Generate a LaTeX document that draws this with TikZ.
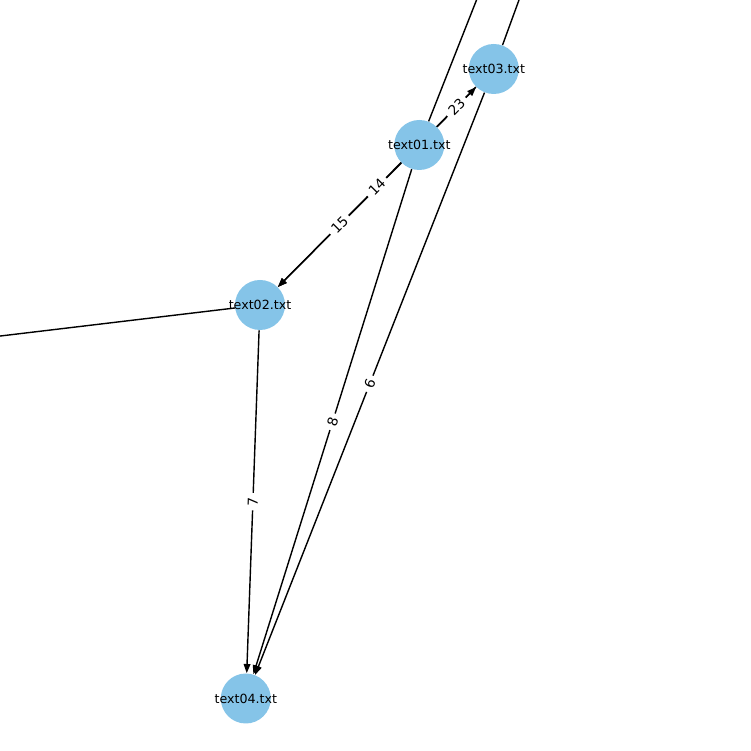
\documentclass[tikz,border=0pt]{standalone}
\usepackage{fontspec}
\setsansfont{DejaVu Sans}
\usetikzlibrary{arrows.meta,backgrounds}
\definecolor{nodec}{HTML}{85C4E8}
\definecolor{ink}{HTML}{000000}

\begin{document}
\begin{tikzpicture}[font=\sffamily\fontsize{7.2}{8.6}\selectfont,
  filenode/.style={circle, fill=nodec, minimum size=1cm, inner sep=0},
  link/.style={draw=ink, line width=0.8pt,
    -{Triangle[length=5.2pt,width=3.8pt]}},
  weight/.style={fill=white, inner xsep=2.4pt, inner ysep=1pt,
    rounded corners=1pt, midway, sloped,
    font=\sffamily\fontsize{7.8}{9}\selectfont}]

\def\W{15.02}   % side of the frame

\useasboundingbox (0,0) rectangle (\W,\W);

% ---- files
\foreach \id/\x/\y in {01/8.386/12.12, 02/5.20/8.92, 03/9.876/13.64,
                       04/4.916/1.05}{
  \node[filenode] (t\id) at (\x,\y) {\makebox[0pt]{text\id.txt}};
}

% ---- far ends, outside the frame
\coordinate (fara) at (10.32,17.02);
\coordinate (farb) at (11.11,17.02);
\coordinate (farl) at (-2.0,8.06);

% ---- links, under the files
\begin{scope}[on background layer]
  \clip (0,0) rectangle (\W,\W);
  \foreach \a/\b in {t01/t03, t01/t02, t03/t02, t02/t04, t01/t04,
                     t03/t04, t01/fara, t03/farb, t02/farl}
    \draw[link] (\a) -- (\b);
\end{scope}

% ---- weights
\foreach \a/\b/\w in {01/03/23, 01/02/15, 03/02/14, 02/04/7, 01/04/8,
                      03/04/6}
  \path (t\a) -- (t\b) node[weight] {\w};

\end{tikzpicture}
\end{document}
